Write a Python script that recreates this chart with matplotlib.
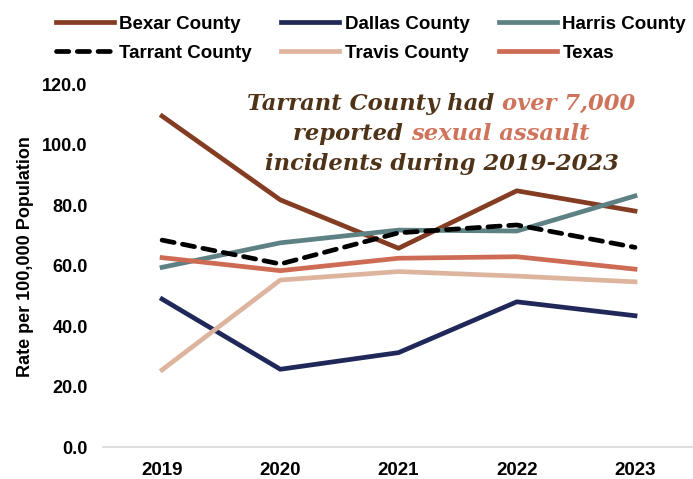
import matplotlib
matplotlib.use('Agg')
import matplotlib.pyplot as plt
from matplotlib.offsetbox import TextArea, HPacker, VPacker, AnnotationBbox

years = ['2019', '2020', '2021', '2022', '2023']
bexar = [109.4, 81.7, 65.7, 84.7, 78.0]
dallas = [48.9, 25.7, 31.2, 48.0, 43.4]
harris = [59.4, 67.5, 71.7, 71.4, 83.0]
tarrant = [68.4, 60.5, 70.8, 73.4, 66.0]
travis = [25.5, 55.2, 58.0, 56.5, 54.6]
texas = [62.6, 58.3, 62.4, 62.9, 58.8]

plt.rcParams['font.family'] = ['Liberation Sans', 'DejaVu Sans']

fig = plt.figure(figsize=(6.93, 4.79), dpi=100)
ax = fig.add_axes([0.1486, 0.0668, 0.853, 0.7578])

x = range(len(years))
lw = 3.4
l_bexar, = ax.plot(x, bexar, color='#843C22', lw=lw, label='Bexar County')
l_dallas, = ax.plot(x, dallas, color='#1F2859', lw=lw, label='Dallas County')
l_harris, = ax.plot(x, harris, color='#5E8184', lw=lw, label='Harris County')
l_travis, = ax.plot(x, travis, color='#DDB59E', lw=lw, label='Travis County')
l_texas, = ax.plot(x, texas, color='#CD6B55', lw=lw, label='Texas')
l_tarrant, = ax.plot(x, tarrant, color='black', lw=lw, ls=(0, (2.6, 1.8)),
                     dash_capstyle='round', label='Tarrant County')

ax.set_xlim(-0.5, 4.5)
ax.set_ylim(0, 120)
ax.set_xticks(list(x))
ax.set_xticklabels(years, fontsize=13.5, fontweight='bold')
ax.set_yticks(range(0, 121, 20))
ax.set_yticklabels([f'{v:.1f}' for v in range(0, 121, 20)], fontsize=13, fontweight='bold')
ax.tick_params(length=0)
ax.tick_params(axis='y', pad=11)
ax.tick_params(axis='x', pad=11)
for s in ['top', 'right', 'left']:
    ax.spines[s].set_visible(False)
ax.spines['bottom'].set_color('#d9d9d9')
ax.spines['bottom'].set_linewidth(1.2)
ax.set_ylabel('Rate per 100,000 Population', fontsize=13, fontweight='bold')
ax.yaxis.set_label_coords(-0.117, 0.525)

fig.legend(handles=[l_bexar, l_tarrant, l_dallas, l_travis, l_harris, l_texas],
           ncol=3, loc='upper center', bbox_to_anchor=(0.535, 1.003), frameon=False,
           prop={'weight': 'bold', 'size': 13.5}, handlelength=3.1,
           columnspacing=1.55, handletextpad=0.3, labelspacing=0.65)

brown = '#4F3318'
salmon = '#D0735B'
fp = dict(family='DejaVu Serif', style='italic', weight='bold', size=16.3)

def piece(s, c):
    return TextArea(s, textprops=dict(color=c, **fp))

line1 = HPacker(children=[piece('Tarrant County had ', brown), piece('over 7,000', salmon)], pad=0, sep=0)
line2 = HPacker(children=[piece('reported ', brown), piece('sexual assault', salmon)], pad=0, sep=0)
line3 = HPacker(children=[piece('incidents during 2019-2023', brown)], pad=0, sep=0)
box = VPacker(children=[line1, line2, line3], align='center', pad=0, sep=6)
ab = AnnotationBbox(box, (0.637, 0.72), xycoords='figure fraction', frameon=False,
                    box_alignment=(0.5, 0.5))
fig.add_artist(ab)

plt.savefig('out.png', dpi=100)
